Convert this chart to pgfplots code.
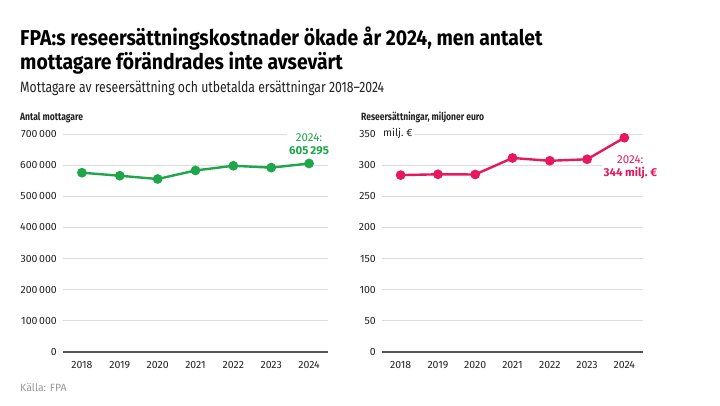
\documentclass[border=0pt]{standalone}
\usepackage{fontspec}
\setmainfont{Fira Sans}
\newfontfamily\titlefont[FakeStretch=0.9]{Fira Sans}
\newfontfamily\condfont[FakeStretch=0.815]{Fira Sans}
\usepackage{pgfplots}
\pgfplotsset{compat=1.18}
\definecolor{cgreen}{HTML}{1FA64A}
\definecolor{cpink}{HTML}{E6195E}
\definecolor{cgrid}{HTML}{DCDCDC}
\definecolor{ctext}{HTML}{222222}
\definecolor{czero}{HTML}{555555}
\pgfplotsset{
  mystyle/.style={
    scale only axis, clip=false,
    xmin=-0.5, xmax=6.5, ymin=0,
    xtick={0,...,6},
    xticklabels={2018,2019,2020,2021,2022,2023,2024},
    scaled y ticks=false,
    axis line style={draw=none},
    major tick style={draw=none},
    ymajorgrids, major grid style={cgrid, line width=0.8pt},
    tick label style={font=\fontsize{10.5}{12}\selectfont, text=ctext},
    yticklabel style={anchor=east, inner sep=0pt, xshift=-6pt},
    xticklabel style={anchor=north, inner sep=0pt, yshift=-9pt},
    /pgf/number format/assume math mode=true,
  }
}
\begin{document}
\begin{tikzpicture}
\useasboundingbox[fill=white] (0,0) rectangle (720pt,405pt);
\node[anchor=base west, inner sep=0, text=black] at (20pt,359pt) {\titlefont\bfseries\fontsize{21.5}{24}\selectfont FPA:s reseersättningskostnader ökade år 2024, men antalet};
\node[anchor=base west, inner sep=0, text=black] at (20pt,335pt) {\titlefont\bfseries\fontsize{21.5}{24}\selectfont mottagare förändrades inte avsevärt};
\node[anchor=base west, inner sep=0, text=ctext] at (20pt,312pt) {\condfont\fontsize{15}{18}\selectfont Mottagare av reseersättning och utbetalda ersättningar 2018–2024};
\node[anchor=base west, inner sep=0, text=ctext] at (20pt,284.5pt) {\condfont\bfseries\fontsize{10.5}{12}\selectfont Antal mottagare};
\node[anchor=base west, inner sep=0, text=ctext] at (361pt,284.5pt) {\condfont\bfseries\fontsize{10.5}{12}\selectfont Reseersättningar, miljoner euro};
\node[anchor=base west, inner sep=0, text=gray!80] at (20pt,14pt) {\fontsize{10.5}{12}\selectfont Källa: FPA};

\begin{axis}[mystyle, at={(63pt,53pt)}, anchor=south west, width=265pt, height=218pt,
  ymax=700000, ytick={0,100000,200000,300000,400000,500000,600000,700000},
  yticklabels={0,100\,000,200\,000,300\,000,400\,000,500\,000,600\,000,700\,000}]
\draw[czero, line width=1.5pt] (axis cs:-0.5,0) -- (axis cs:6.5,0);
\addplot[cgreen, line width=2.4pt, mark=*, mark size=3.6pt] coordinates {
(0,575700) (1,566000) (2,555500) (3,583000) (4,598000) (5,592000) (6,605295)};
\node[anchor=south, fill=white, inner sep=2pt, align=center, text=cgreen, font=\fontsize{11.5}{13}\selectfont] at (axis cs:6,605295) [yshift=6pt] {2024:\\\textbf{605\,295}};
\end{axis}

\begin{axis}[mystyle, at={(382pt,53pt)}, anchor=south west, width=261pt, height=218pt,
  ymax=350, ytick={0,50,...,350}]
\draw[czero, line width=1.5pt] (axis cs:-0.5,0) -- (axis cs:6.5,0);
\node[anchor=west, fill=white, inner sep=1pt, text=ctext, font=\fontsize{10.5}{12}\selectfont] at (axis cs:-0.5,350) {milj.\ €};
\addplot[cpink, line width=2.4pt, mark=*, mark size=3.6pt] coordinates {
(0,284) (1,285.3) (2,285) (3,311.5) (4,307) (5,309.4) (6,344)};
\node[anchor=north, fill=white, inner sep=2pt, align=center, text=cpink, font=\fontsize{11.5}{13}\selectfont] at (axis cs:6,344) [xshift=6pt, yshift=-16pt] {2024:\\\textbf{344 milj.\ €}};
\end{axis}
\end{tikzpicture}
\end{document}
